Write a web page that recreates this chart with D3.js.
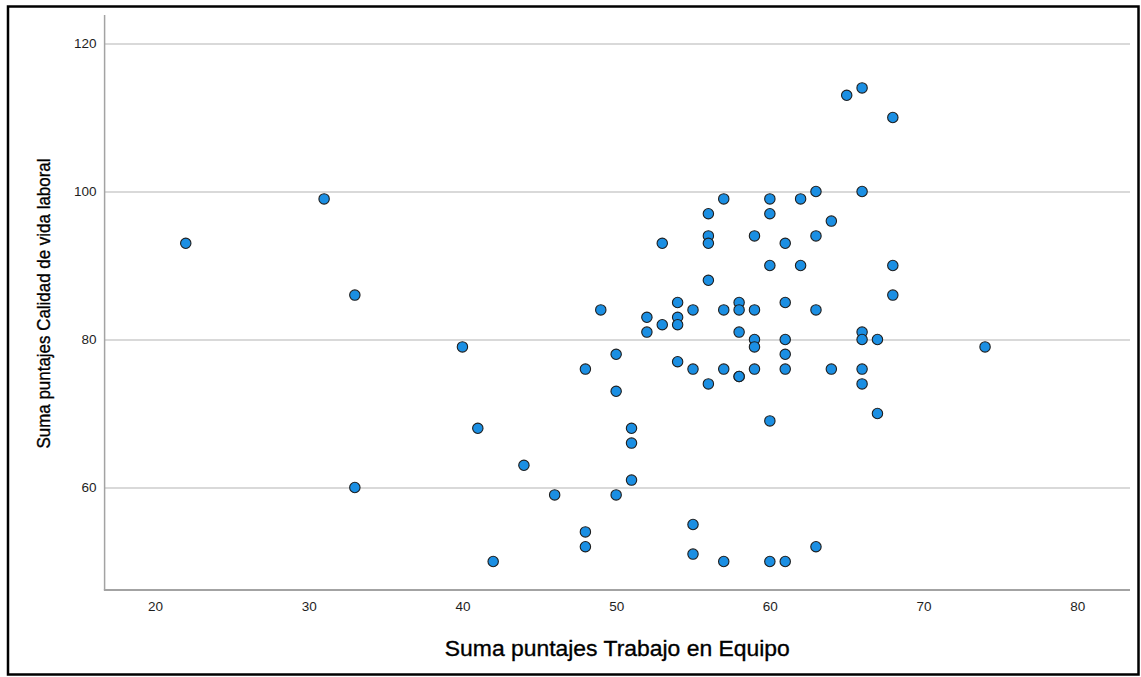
<!DOCTYPE html>
<html><head><meta charset="utf-8">
<script src="https://cdn.jsdelivr.net/npm/d3@7"></script>
<style>body{margin:0;background:#fff} svg{display:block}</style>
</head><body><svg id="chart" width="1141" height="677"></svg>
<script>
// Data
const teamworkScores = [22,31,33,33,40,41,42,44,46,
  48,48,48,49,50,50,50,51,51,51,52,52,53,53,
  54,54,54,54,55,55,55,55,56,56,56,56,56,
  57,57,57,57,58,58,58,58,58,59,59,59,59,59,
  60,60,60,60,60,61,61,61,61,61,61,62,62,
  63,63,63,63,64,64,65,66,66,66,66,66,66,
  67,67,68,68,68,74];
const worklifeScores = [93,99,86,60,79,68,50,63,59,
  76,54,52,84,78,73,59,68,66,61,83,81,93,82,
  85,83,82,77,84,76,55,51,97,94,93,88,74,
  99,84,76,50,85,84,81,75,75,94,84,80,79,76,
  99,97,90,69,50,93,85,80,78,76,50,99,90,
  100,94,84,52,96,76,113,114,100,81,80,76,74,
  80,70,110,90,86,79];
const xTickValues = [20,30,40,50,60,70,80];
const yTickValues = [60,80,100,120];
const xTitle = "Suma puntajes Trabajo en Equipo";
const yTitle = "Suma puntajes Calidad de vida laboral";

const svg = d3.select("#chart");
const plot = {left:104.6, right:1130, top:15, bottom:590};
const x = d3.scaleLinear().domain([16.72, 83.43]).range([plot.left, plot.right]);
const y = d3.scaleLinear().domain([46.15, 123.85]).range([plot.bottom, plot.top]);
const font = "'Liberation Sans', Arial, sans-serif";

// outer frame
svg.append("rect").attr("x",8).attr("y",6.5).attr("width",1130.5).attr("height",668)
  .attr("fill","#fff").attr("stroke","#000").attr("stroke-width",2.5);

// horizontal gridlines + y tick labels
const gy = svg.append("g").attr("transform",`translate(${plot.left},0)`)
  .call(d3.axisLeft(y).tickValues(yTickValues).tickFormat(d3.format("d"))
    .tickSize(-(plot.right-plot.left)).tickPadding(8));
gy.select(".domain").remove();
gy.selectAll(".tick line").attr("stroke","#cdcdcd").attr("stroke-width",1.5);
gy.selectAll(".tick text").attr("fill","#1e1e1e").style("font-family",font).style("font-size","13.5px");

// x tick labels
const gx = svg.append("g").attr("transform",`translate(0,${plot.bottom})`)
  .call(d3.axisBottom(x).tickValues(xTickValues).tickFormat(d3.format("d"))
    .tickSize(0).tickPadding(11.5));
gx.select(".domain").remove();
gx.selectAll(".tick text").attr("fill","#1e1e1e").style("font-family",font).style("font-size","13.5px");

// axis lines
svg.append("line").attr("x1",plot.left).attr("x2",plot.left).attr("y1",plot.top).attr("y2",plot.bottom)
  .attr("stroke","#a3a3a3").attr("stroke-width",1.5);
svg.append("line").attr("x1",plot.left-0.75).attr("x2",plot.right).attr("y1",plot.bottom).attr("y2",plot.bottom)
  .attr("stroke","#a3a3a3").attr("stroke-width",2);

// points
const pts = teamworkScores.map((d,i)=>({x:d,y:worklifeScores[i]}));
svg.append("g").selectAll("circle").data(pts).join("circle")
  .attr("cx",d=>x(d.x)).attr("cy",d=>y(d.y)).attr("r",5.2)
  .attr("fill","#1b8fe3").attr("stroke","#1e1e1e").attr("stroke-width",1.1);

// titles
svg.append("text").attr("x",(plot.left+plot.right)/2).attr("y",656)
  .attr("text-anchor","middle").attr("fill","#000").attr("stroke","#000").attr("stroke-width",0.35)
  .style("font-family",font).style("font-size","22.5px")
  .attr("textLength",345).attr("lengthAdjust","spacingAndGlyphs").text(xTitle);
svg.append("text").attr("transform",`translate(50,${(plot.top+plot.bottom)/2+1}) rotate(-90)`)
  .attr("text-anchor","middle").attr("fill","#000").attr("stroke","#000").attr("stroke-width",0.35)
  .style("font-family",font).style("font-size","19px")
  .attr("textLength",290).attr("lengthAdjust","spacingAndGlyphs").text(yTitle);
</script></body></html>
